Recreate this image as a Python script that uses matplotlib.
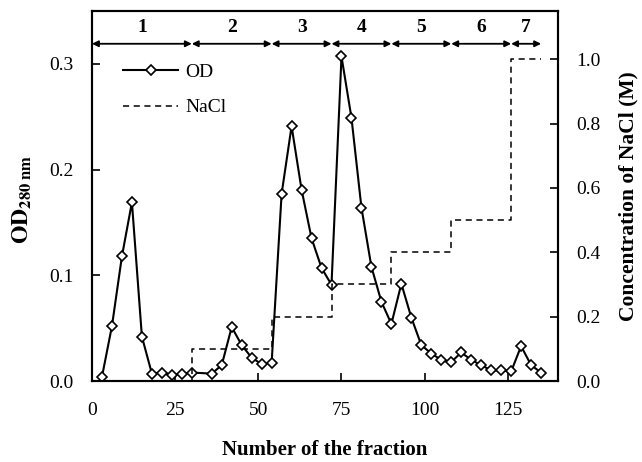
import matplotlib
matplotlib.use("Agg")
import matplotlib.pyplot as plt
import numpy as np

plt.rcParams['font.family'] = ['Liberation Serif', 'DejaVu Serif']
plt.rcParams['mathtext.fontset'] = 'stix'

# ---- data ----
fraction = [3, 6, 9, 12, 15, 18, 21, 24, 27, 30, 36, 39, 42, 45, 48, 51, 54, 57, 60,
            63, 66, 69, 72, 75, 78, 81, 84, 87, 90, 93, 96, 99, 102, 105, 108, 111,
            114, 117, 120, 123, 126, 129, 132, 135]
od = [0.004, 0.052, 0.118, 0.169, 0.042, 0.007, 0.008, 0.006, 0.007, 0.008,
      0.007, 0.015, 0.051, 0.034, 0.022, 0.016, 0.017, 0.177, 0.241, 0.181,
      0.135, 0.107, 0.091, 0.307, 0.249, 0.164, 0.108, 0.075, 0.054, 0.092,
      0.060, 0.034, 0.026, 0.020, 0.018, 0.027, 0.020, 0.015, 0.010, 0.010,
      0.009, 0.033, 0.015, 0.008]

nacl_start = [0, 30, 54, 72, 90, 108, 126]
nacl_conc = [0.0, 0.1, 0.2, 0.3, 0.4, 0.5, 1.0]
nacl_end = 135

region_edges = [0, 30, 54, 72, 90, 108, 126, 135]
region_labels = ['1', '2', '3', '4', '5', '6', '7']

x_ticks = [0, 25, 50, 75, 100, 125]
od_ticks = [0.0, 0.1, 0.2, 0.3]
nacl_ticks = [0.0, 0.2, 0.4, 0.6, 0.8, 1.0]

# ---- figure ----
fig = plt.figure(figsize=(6.42, 4.62), dpi=100)
ax = fig.add_axes([0.1433, 0.1753, 0.8687 - 0.1433, 0.9762 - 0.1753])
ax2 = ax.twinx()

l1, = ax.plot(fraction, od, color='black', lw=1.5, marker='D', markersize=5.5,
              markerfacecolor='white', markeredgecolor='black', markeredgewidth=1.2,
              label='OD', zorder=3)

sx = nacl_start + [nacl_end]
sy = nacl_conc + [nacl_conc[-1]]
l2, = ax2.step(sx, sy, where='post', color='black', lw=1.1,
               linestyle=(0, (4, 3)), label='NaCl')

ax.set_xlim(0, 140)
ax.set_ylim(0, 0.35)
ax2.set_ylim(0, 1.15)

ax.set_xticks(x_ticks)
ax.set_yticks(od_ticks)
ax.set_yticklabels([f'{v:.1f}' for v in od_ticks])
ax2.set_yticks(nacl_ticks)
ax2.set_yticklabels([f'{v:.1f}' for v in nacl_ticks])

ax.tick_params(axis='both', direction='in', length=6, width=1.2, labelsize=14, pad=13)
ax.tick_params(axis='x', pad=15)
ax2.tick_params(axis='y', direction='in', length=6, width=1.2, labelsize=14, pad=13)

for a in (ax, ax2):
    for s in a.spines.values():
        s.set_linewidth(1.5)

ax.set_xlabel('Number of the fraction', fontsize=15, fontweight='bold')
ax.xaxis.set_label_coords(0.5, -0.186)
ax.xaxis.label.set_va('center')
ax.set_ylabel(r'$\mathbf{OD_{280\ nm}}$', fontsize=17)
ax.yaxis.set_label_coords(-0.150, 0.49)
ax.yaxis.label.set_va('center')
ax2.set_ylabel('Concentration of NaCl (M)', fontsize=15.5, fontweight='bold')
ax2.yaxis.set_label_coords(1.151, 0.5)
ax2.yaxis.label.set_va('center')

# region arrows
y_arrow = 0.319
y_num = 0.334
for i, lab in enumerate(region_labels):
    a0, a1 = region_edges[i], region_edges[i + 1]
    ax.annotate('', xy=(a1, y_arrow), xytext=(a0, y_arrow),
                arrowprops=dict(arrowstyle='<|-|>', color='black', lw=1.3,
                                mutation_scale=9, shrinkA=0, shrinkB=0),
                annotation_clip=False)
    ax.text((a0 + a1) / 2, y_num, lab, ha='center', va='center',
            fontsize=14, fontweight='bold')

leg = ax.legend([l1, l2], ['OD', 'NaCl'], loc='upper left',
                bbox_to_anchor=(0.03, 0.905), frameon=False, fontsize=14,
                handlelength=2.8, handletextpad=0.4, labelspacing=0.9, numpoints=1)

fig.savefig('out.png', dpi=100)
